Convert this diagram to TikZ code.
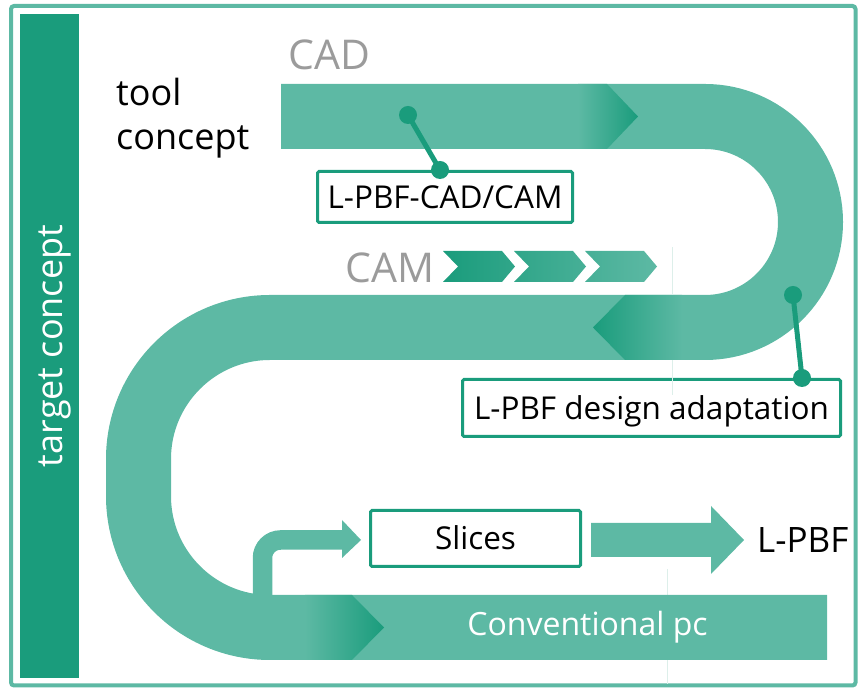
\documentclass[tikz,border=0pt]{standalone}
\usepackage{fontspec}
\setmainfont{Open Sans}
\usetikzlibrary{calc}
\definecolor{band}{HTML}{5DB9A4}
\definecolor{dark}{HTML}{1A9C7C}
\definecolor{labelgray}{HTML}{9B9B9B}
\definecolor{faint}{HTML}{DDEFEA}
\begin{document}
\begin{tikzpicture}[x=1pt,y=1pt,
  fs/.style={font=\fontsize{#1}{#1}\selectfont},
  box/.style={draw=dark, line width=3pt, fill=white, rounded corners=1.5pt, inner sep=0pt,
              text height=22.5pt, text depth=0pt, font=\fontsize{31.5}{36}\selectfont},
  dot/.style={circle, fill=dark, inner sep=0pt, minimum size=18pt},
  link/.style={draw=dark, line width=5pt},
  label/.style={inner sep=0pt, anchor=base west}]
\useasboundingbox (0,0) rectangle (859,695);
% frame and side bar
\draw[band, line width=4pt, rounded corners=3pt] (11,9.5) rectangle (855.5,689);
\fill[dark] (20,17.3) rectangle (78.7,681);
\node[label, anchor=base, rotate=90, fs=36, text=white] (target) at (62,349) {target concept};
% faint guide lines
\draw[faint, line width=1pt] (672,448) -- (672,401);
\draw[faint, line width=1pt] (667,126) -- (667,11);
% S-shaped band
\draw[band, line width=65pt] (281,578.5) -- (705,578.5)
  arc[start angle=90, end angle=-90, radius=105.5] -- (270,367.5)
  arc[start angle=90, end angle=180, radius=131.5] -- (138.5,199)
  arc[start angle=180, end angle=270, radius=131.5] -- (827,67.5);
% gradient chevrons in the band
\shade[left color=band, right color=dark] (578,611) -- (607,611) -- (638,578.5) -- (607,546) -- (578,546) -- cycle;
\shade[left color=dark, right color=band] (593,367.5) -- (625,400) -- (682,400) -- (682,335) -- (625,335) -- cycle;
\shade[left color=band, right color=dark] (305,100) -- (352,100) -- (384,67.5) -- (352,35) -- (305,35) -- cycle;
% CAM chevrons
\shade[left color=dark, right color=band]
  (443,444) -- (502,444) -- (515,428.5) -- (502,413) -- (443,413) -- (458,428.5) -- cycle
  (514,444) -- (573,444) -- (586,428.5) -- (573,413) -- (514,413) -- (529,428.5) -- cycle
  (585,444) -- (644,444) -- (657,428.5) -- (644,413) -- (585,413) -- (600,428.5) -- cycle;
% labels
\node[label, fs=41, text=labelgray] (cad) at (288,625) {CAD};
\node[label, fs=41, text=labelgray] (cam) at (345,412) {CAM};
\node[label, fs=36] (tool) at (116,589) {tool};
\node[label, fs=36] (concept) at (116,545) {concept};
\node[label, fs=35] (lpbf) at (757,142) {L-PBF};
\node[label, anchor=base, fs=32, text=white] (conv) at (587.5,59) {Conventional pc};
% boxes
\node[box, minimum width=255pt, minimum height=51pt] (cadcam) at (445,498) {L-PBF-CAD/CAM};
\node[box, minimum width=378pt, minimum height=57pt] (adapt) at (651.5,287) {L-PBF design adaptation};
\node[box, minimum width=210pt, minimum height=56pt] (slices) at (475.5,156.5) {Slices};
\draw[faint, line width=1pt] (672,335) -- (672,300);
% bent arrow from band to Slices
\coordinate (bstart) at (262.5,98);
\coordinate (bcorner) at (262.5,155);
\coordinate (bhead) at (343,155);
\draw[band, line width=19.5pt, rounded corners=18pt] (bstart) -- (bcorner) -- (bhead);
\fill[band] (342,175) -- (361,155) -- (342,137) -- cycle;
% big arrow Slices -> L-PBF
\fill[band] (591,172) -- (711,172) -- (711,189) -- (744,155) -- (711,121) -- (711,138) -- (591,138) -- cycle;
% pin connectors
\coordinate (e1) at (440,0);
\coordinate (e2) at (802,0);
\node[dot] (d1) at (408,580) {};
\node[dot] (d1b) at (cadcam.north -| e1) {};
\draw[link] (d1.center) -- (d1b.center);
\node[dot] (d2) at (793,400) {};
\node[dot] (d2b) at (adapt.north -| e2) {};
\draw[link] (d2.center) -- (d2b.center);
\end{tikzpicture}
\end{document}
